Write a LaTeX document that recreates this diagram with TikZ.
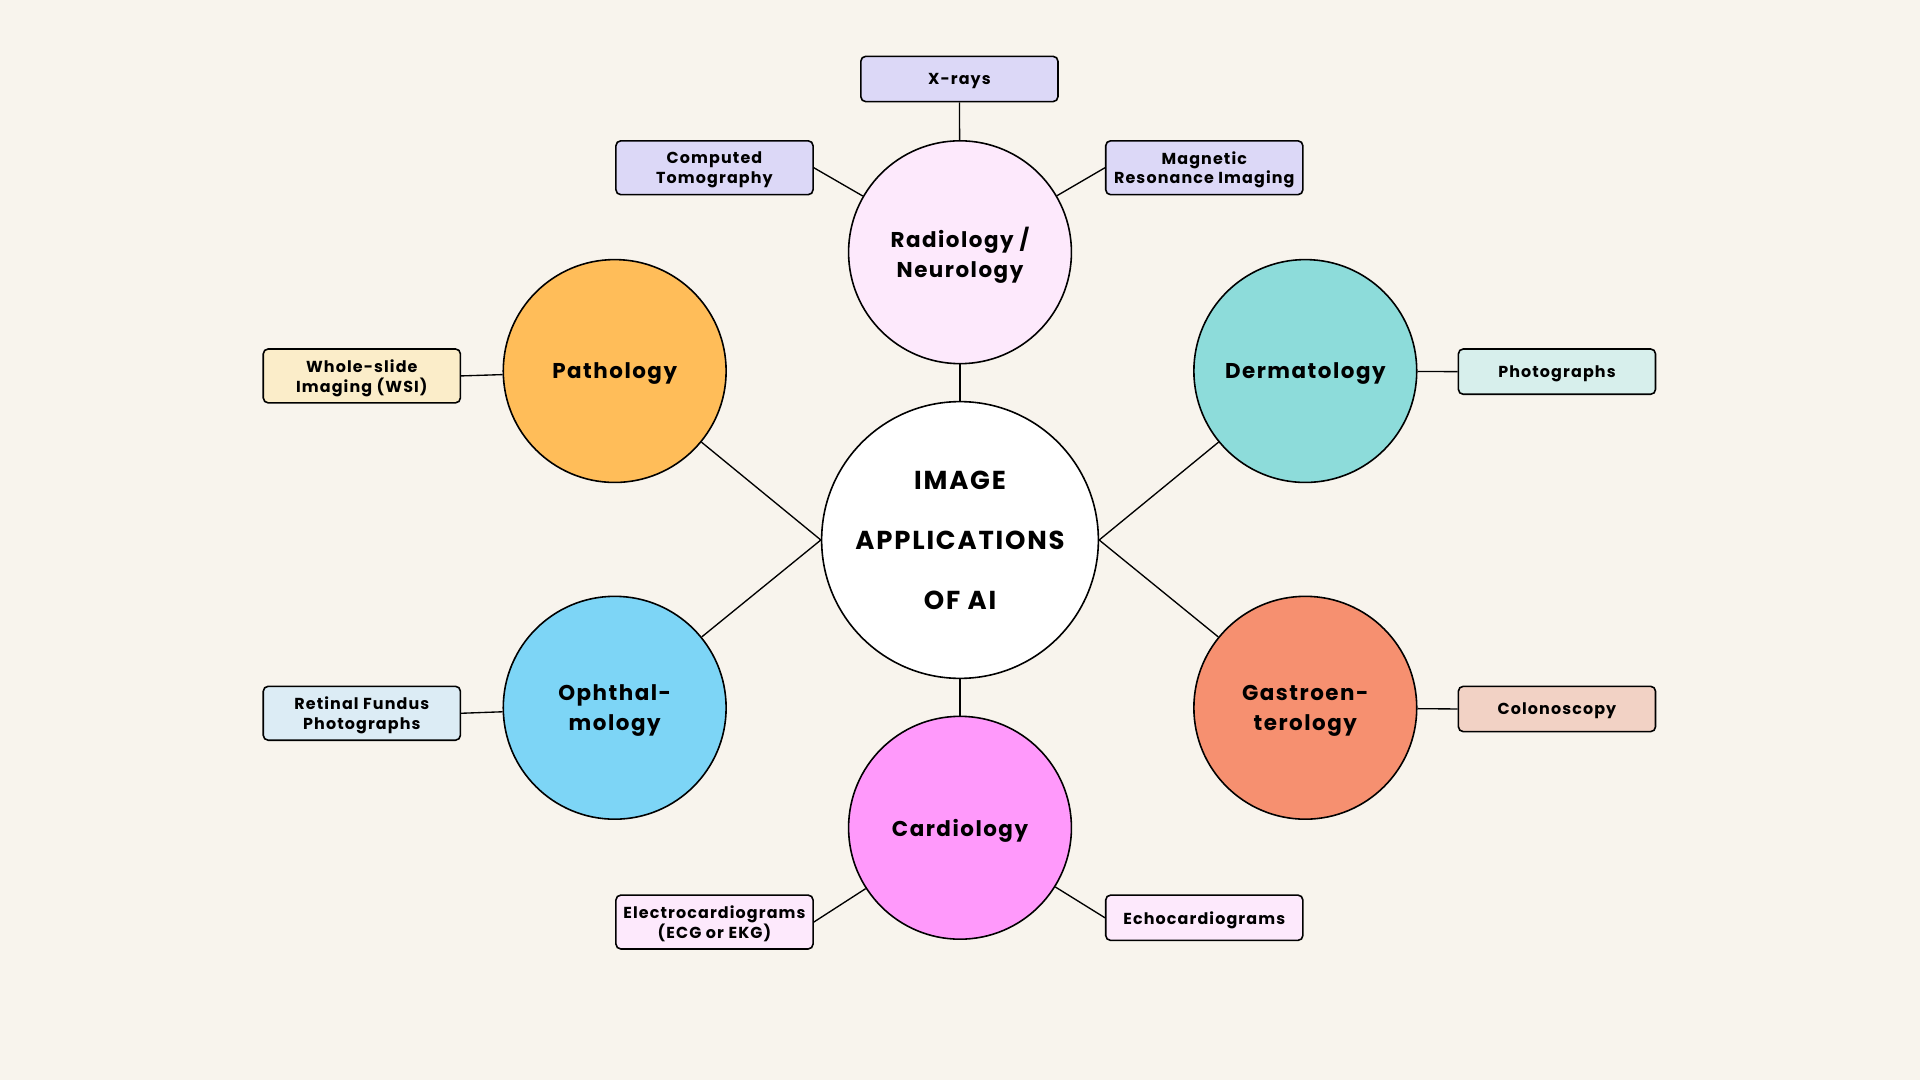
\documentclass[tikz,border=0pt]{standalone}
\usepackage{fontspec}
\newfontfamily\pop[LetterSpace=7]{Poppins}
\definecolor{bg}{HTML}{F8F4ED}
\definecolor{cradio}{HTML}{FDE9FC}
\definecolor{ccardio}{HTML}{FF99FB}
\definecolor{cpatho}{HTML}{FFBD59}
\definecolor{cophth}{HTML}{7DD5F6}
\definecolor{cderma}{HTML}{8DDCDA}
\definecolor{cgastro}{HTML}{F69070}
\definecolor{bradio}{HTML}{DCD8F7}
\definecolor{bpatho}{HTML}{FBEDC9}
\definecolor{bderma}{HTML}{D7EFEC}
\definecolor{bophth}{HTML}{DCECF5}
\definecolor{bgastro}{HTML}{F2D2C5}
\definecolor{bcardio}{HTML}{FDE9FC}
\tikzset{
  hub/.style={circle, draw=black, line width=1.3pt, minimum size=182pt, inner sep=0pt, align=center,
    text depth=0pt, font=\pop\bfseries\fontsize{17.5}{24}\selectfont},
  core/.style={circle, draw=black, line width=1.3pt, fill=white, minimum size=226pt, inner sep=0pt, align=center,
    font=\pop\bfseries\fontsize{21.2}{49}\selectfont},
  leaf/.style={rectangle, rounded corners=4pt, draw=black, line width=1.3pt, minimum width=161pt,
    minimum height=37pt, inner sep=0pt, align=center, text depth=0pt,
    font=\pop\bfseries\fontsize{13}{16}\selectfont},
  twoline/.style={minimum height=44pt},
  link/.style={line width=1.1pt}
}
\begin{document}
\begin{tikzpicture}[x=1pt,y=-1pt]
\fill[bg] (0,0) rectangle (1568,882);
\useasboundingbox (0,0) rectangle (1568,882);
% hubs
\node[core] (core) at (784,441) {IMAGE\\APPLICATIONS\\OF AI};
\node[hub, fill=cradio] (radio) at (784,206) {Radiology /\\Neurology};
\node[hub, fill=ccardio] (cardio) at (784,676) {Cardiology};
\node[hub, fill=cpatho] (patho) at (502,303) {Pathology};
\node[hub, fill=cophth] (ophth) at (502,578) {Ophthal-\\mology};
\node[hub, fill=cderma] (derma) at (1066,303) {Dermatology};
\node[hub, fill=cgastro] (gastro) at (1066,578) {Gastroen-\\terology};
% leaves
\node[leaf, fill=bradio] (xray) at (783.5,64.5) {X-rays};
\node[leaf, twoline, fill=bradio] (ct) at (583.5,137) {Computed\\Tomography};
\node[leaf, twoline, fill=bradio] (mri) at (983.5,137) {Magnetic\\Resonance Imaging};
\node[leaf, twoline, fill=bpatho] (wsi) at (295.5,307) {Whole-slide\\Imaging (WSI)};
\node[leaf, fill=bderma] (photo) at (1271.5,303.5) {Photographs};
\node[leaf, twoline, fill=bophth] (fundus) at (295.5,582.5) {Retinal Fundus\\Photographs};
\node[leaf, fill=bgastro] (colon) at (1271.5,579) {Colonoscopy};
\node[leaf, twoline, fill=bcardio] (ecg) at (583.5,753) {Electrocardiograms\\(ECG or EKG)};
\node[leaf, fill=bcardio] (echo) at (983.5,749.5) {Echocardiograms};
% connectors
\draw[link] (core) -- (radio);
\draw[link] (core) -- (cardio);
\draw[link] (core.west) -- (patho);
\draw[link] (core.west) -- (ophth);
\draw[link] (core.east) -- (derma);
\draw[link] (core.east) -- (gastro);
\draw[link] (xray) -- (radio);
\draw[link] (ct.east) -- (radio);
\draw[link] (mri.west) -- (radio);
\draw[link] (wsi.east) -- (patho);
\draw[link] (photo.west) -- (derma);
\draw[link] (fundus.east) -- (ophth);
\draw[link] (colon.west) -- (gastro);
\draw[link] (ecg.east) -- (cardio);
\draw[link] (echo.west) -- (cardio);
\end{tikzpicture}
\end{document}
